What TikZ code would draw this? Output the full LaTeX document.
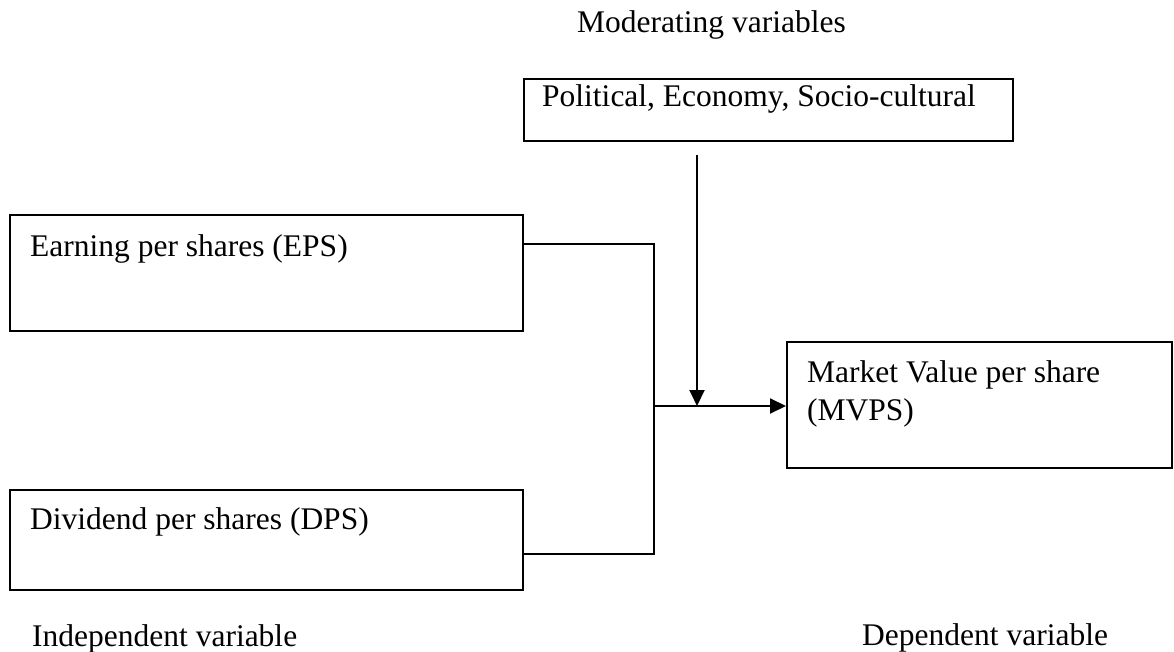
\documentclass[tikz,border=0pt]{standalone}
\usepackage{fontspec}
\setmainfont{Liberation Serif}
\usetikzlibrary{arrows.meta}
\begin{document}
\begin{tikzpicture}[x=1pt,y=-1pt,
  box/.style={draw=black, line width=2pt, rectangle, inner sep=0pt, anchor=north west},
  txt/.style={anchor=base west, inner sep=0pt, font=\fontsize{31.5pt}{38pt}\selectfont},
  conn/.style={draw=black, line width=2pt},
  arr/.style={conn, -{Triangle[length=16pt,width=15pt]}}]
\useasboundingbox (0,0) rectangle (1174,652);
% boxes
\node[box, minimum width=489pt, minimum height=62pt] (pol) at (523,78) {};
\node[box, minimum width=513pt, minimum height=116pt] (eps) at (9,214) {};
\node[box, minimum width=513pt, minimum height=100pt] (dps) at (9,489) {};
\node[box, minimum width=385pt, minimum height=126pt] (mvps) at (786,341) {};
% texts
\node[txt] (tmod) at (577,33) {Moderating variables};
\node[txt] (tpol) at (542,107) {Political, Economy, Socio-cultural};
\node[txt] (teps) at (30,256) {Earning per shares (EPS)};
\node[txt] (tdps) at (30,529) {Dividend per shares (DPS)};
\node[txt] (tmv1) at (807,382) {Market Value per share};
\node[txt] (tmv2) at (807,420) {(MVPS)};
\node[txt] (tind) at (32,646) {Independent variable};
\node[txt] (tdep) at (862,645) {Dependent variable};
% connectors
\coordinate (e1) at ([yshift=-30pt]eps.north east);
\coordinate (d1) at ([yshift=-65pt]dps.north east);
\coordinate (j) at (654,406);
\coordinate (a0) at (697,155);
\draw[conn] (e1) -| (j) |- (d1);
\draw[arr] (j) -- (j -| mvps.west);
\draw[arr] (a0) -- (a0 |- j);
\end{tikzpicture}
\end{document}
